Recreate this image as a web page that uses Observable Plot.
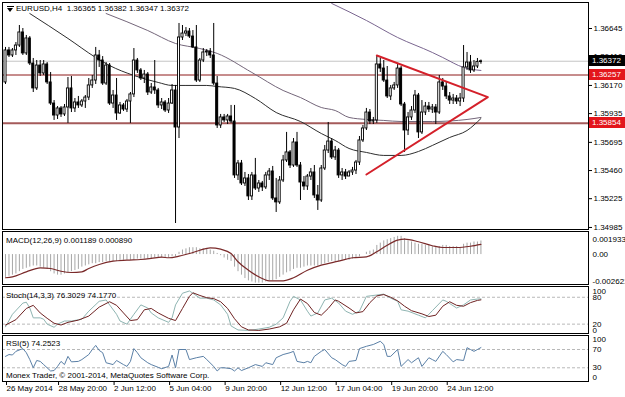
<!DOCTYPE html>
<html><head><meta charset="utf-8">
<script src="https://cdn.jsdelivr.net/npm/d3@7"></script>
<script src="https://cdn.jsdelivr.net/npm/@observablehq/plot@0.6"></script>
<style>
html,body{margin:0;padding:0;background:#fff;}
#chart{position:relative;width:625px;height:397px;overflow:hidden;background:#fff;font-family:"Liberation Sans",Arial,sans-serif;font-size:8px;color:#000;}
.lbl{position:absolute;white-space:pre;line-height:10px;font-size:8px;color:#000;}
.box{position:absolute;left:589px;width:36px;height:11px;line-height:11px;color:#fff;font-size:8px;padding-left:3px;box-sizing:border-box;}
</style></head><body><div id="chart"></div>
<script>
// ---------------- DATA ----------------
const symbol = "EURUSD,H4";
const open = [
1.36195,1.36462,1.36420,1.36462,1.36503,1.36612,1.36437,1.36562,1.36353,1.36145,
1.36336,1.36270,1.36345,1.36195,1.36019,1.35919,1.35978,1.35928,1.35986,1.36145,
1.35978,1.36028,1.36003,1.36036,1.36069,1.36170,1.36211,1.36420,1.36378,1.36186,
1.36336,1.36019,1.36086,1.35936,1.36003,1.35969,1.36036,1.36095,1.36378,1.36295,
1.36228,1.36261,1.36111,1.36153,1.36128,1.36003,1.36028,1.35961,1.36019,1.36128,
1.35819,1.36570,1.36603,1.36620,1.36578,1.36487,1.36211,1.36378,1.36445,1.36453,
1.36420,1.36186,1.35836,1.35903,1.35878,1.35911,1.35869,1.35419,1.35519,1.35352,
1.35394,1.35244,1.35419,1.35310,1.35352,1.35319,1.35419,1.35452,1.35227,1.35194,
1.35377,1.35544,1.35611,1.35502,1.35694,1.35502,1.35360,1.35327,1.35410,1.35444,
1.35252,1.35210,1.35477,1.35627,1.35702,1.35569,1.35627,1.35419,1.35444,1.35410,
1.35444,1.35460,1.35527,1.35711,1.35811,1.35944,1.35869,1.35878,1.36345,1.36311,
1.36211,1.36078,1.36145,1.36170,1.36311,1.36011,1.35794,1.35903,1.35961,1.36086,
1.35778,1.35944,1.35994,1.35969,1.35986,1.35944,1.36195,1.36161,1.36078,1.36044,
1.36061,1.36036,1.36061,1.36320,1.36361,1.36295,1.36328,1.36365];
const close = [
1.36462,1.36420,1.36462,1.36503,1.36612,1.36437,1.36562,1.36353,1.36145,1.36336,
1.36270,1.36345,1.36195,1.36019,1.35919,1.35978,1.35928,1.35986,1.36145,1.35978,
1.36028,1.36003,1.36036,1.36069,1.36170,1.36211,1.36420,1.36378,1.36186,1.36336,
1.36019,1.36086,1.35936,1.36003,1.35969,1.36036,1.36095,1.36378,1.36295,1.36228,
1.36261,1.36111,1.36153,1.36128,1.36003,1.36028,1.35961,1.36019,1.36128,1.35819,
1.36570,1.36603,1.36620,1.36578,1.36487,1.36211,1.36378,1.36445,1.36453,1.36420,
1.36186,1.35836,1.35903,1.35878,1.35911,1.35869,1.35419,1.35519,1.35352,1.35394,
1.35244,1.35419,1.35310,1.35352,1.35319,1.35419,1.35452,1.35227,1.35194,1.35377,
1.35544,1.35611,1.35502,1.35694,1.35502,1.35360,1.35327,1.35410,1.35444,1.35252,
1.35210,1.35477,1.35627,1.35702,1.35569,1.35627,1.35419,1.35444,1.35410,1.35444,
1.35460,1.35527,1.35711,1.35811,1.35944,1.35869,1.35878,1.36345,1.36311,1.36211,
1.36078,1.36145,1.36170,1.36311,1.36011,1.35794,1.35903,1.35961,1.36086,1.35778,
1.35944,1.35994,1.35969,1.35986,1.35944,1.36195,1.36161,1.36078,1.36044,1.36061,
1.36036,1.36061,1.36320,1.36361,1.36295,1.36328,1.36365,1.36372];
const high = [
1.36487,1.36487,1.36478,1.36528,1.36670,1.36645,1.36587,1.36578,1.36395,1.36378,
1.36378,1.36378,1.36361,1.36278,1.36044,1.35994,1.35994,1.36011,1.36236,1.36245,
1.36061,1.36078,1.36053,1.36086,1.36228,1.36253,1.36487,1.36462,1.36411,1.36361,
1.36353,1.36128,1.36228,1.36028,1.36019,1.36053,1.36111,1.36478,1.36395,1.36311,
1.36295,1.36278,1.36186,1.36378,1.36145,1.36061,1.36044,1.36061,1.36178,1.36170,
1.36687,1.36670,1.36653,1.36645,1.36628,1.36670,1.36395,1.36478,1.36470,1.36478,
1.36687,1.36245,1.35928,1.35928,1.35928,1.36003,1.36003,1.35544,1.35544,1.35444,
1.35427,1.35444,1.35561,1.35377,1.35369,1.35444,1.35477,1.35494,1.35394,1.35410,
1.35586,1.35778,1.35627,1.35727,1.35778,1.35527,1.35410,1.35427,1.35477,1.35502,
1.35335,1.35502,1.35669,1.35861,1.35727,1.35661,1.35644,1.35477,1.35469,1.35460,
1.35486,1.35544,1.35744,1.35836,1.35978,1.35969,1.35903,1.36411,1.36395,1.36378,
1.36328,1.36170,1.36195,1.36353,1.36328,1.36028,1.35944,1.35994,1.36128,1.36103,
1.36044,1.36028,1.36028,1.36011,1.36011,1.36253,1.36228,1.36195,1.36111,1.36095,
1.36086,1.36103,1.36503,1.36445,1.36420,1.36378,1.36395,1.36382];
const low = [
1.36178,1.36403,1.36403,1.36420,1.36487,1.36420,1.36420,1.36336,1.36111,1.36128,
1.36245,1.36253,1.36178,1.36003,1.35878,1.35886,1.35903,1.35911,1.35853,1.35944,
1.35944,1.35978,1.35986,1.35978,1.36044,1.36145,1.36178,1.36320,1.36170,1.36170,
1.36003,1.35978,1.35878,1.35928,1.35953,1.35944,1.35853,1.36069,1.36270,1.36211,
1.36186,1.36086,1.36095,1.36095,1.35978,1.35969,1.35944,1.35936,1.36011,1.35018,
1.35727,1.36545,1.36578,1.36562,1.36478,1.36195,1.36195,1.36361,1.36411,1.36395,
1.36170,1.35811,1.35811,1.35861,1.35844,1.35853,1.35394,1.35377,1.35335,1.35327,
1.35210,1.35210,1.35294,1.35277,1.35285,1.35302,1.35377,1.35210,1.35110,1.35177,
1.35360,1.35527,1.35477,1.35486,1.35486,1.35210,1.35294,1.35294,1.35377,1.35227,
1.35127,1.35194,1.35460,1.35602,1.35552,1.35544,1.35394,1.35377,1.35385,1.35410,
1.35419,1.35427,1.35502,1.35694,1.35794,1.35844,1.35844,1.35853,1.36278,1.36195,
1.36061,1.36044,1.36128,1.36145,1.35994,1.35611,1.35752,1.35878,1.35936,1.35727,
1.35761,1.35919,1.35944,1.35936,1.35844,1.35928,1.36128,1.36053,1.36011,1.36011,
1.36011,1.35994,1.36028,1.36295,1.36270,1.36278,1.36311,1.36347];

// moving averages (bar index, price)
const maABar = [7,18,26,30,37,44,48,52,58,61,66,72,78,85,91,95,99,104,109,114,119,123,128,133,137];
const maAVal = [1.36770,1.36562,1.36403,1.36336,1.36253,1.36195,1.36170,1.36170,1.36170,1.36161,1.36145,1.36061,1.35944,1.35869,1.35769,1.35711,1.35644,1.35611,1.35586,1.35586,1.35619,1.35669,1.35736,1.35794,1.35894];
const maBBar = [29,41,49,56,61,71,80,85,91,95,99,104,109,114,123,133,137];
const maBVal = [1.36770,1.36628,1.36520,1.36478,1.36437,1.36278,1.36128,1.36069,1.35986,1.35961,1.35903,1.35886,1.35878,1.35869,1.35869,1.35886,1.35903];
const maCBar = [94,104,113,123,126,132,137];
const maCVal = [1.36854,1.36712,1.36570,1.36445,1.36403,1.36320,1.36295];

// horizontal levels and the triangle drawn on the chart
const bidPrice = 1.36372;
const levelPrices = [1.36257, 1.35854];
const triBar = [107, 139, 104];
const triPrice = [1.36420, 1.36072, 1.35427];

// axis ticks
const priceTicks = [1.36645,1.36410,1.36170,1.35935,1.35695,1.35460,1.35225,1.34985];
const dateBars = [0,15,31,47,63,79,95,111,127];
const dateLabels = ["26 May 2014","28 May 20:00","2 Jun 12:00","5 Jun 04:00","9 Jun 20:00","12 Jun 12:00","17 Jun 04:00","19 Jun 20:00","24 Jun 12:00"];

// MACD(12,26,9)
const macdMain = [
-0.0020,-0.0019,-0.0018,-0.0017,-0.0015,-0.0013,-0.0012,-0.0011,-0.0010,-0.0010,-0.0011,
-0.0012,-0.0013,-0.0015,-0.0017,-0.0018,-0.0018,-0.0017,-0.0016,-0.0015,-0.0014,
-0.0013,-0.0011,-0.0010,-0.0009,-0.0008,-0.0008,-0.0007,-0.0007,-0.0006,-0.0006,
-0.0006,-0.0006,-0.0006,-0.0005,-0.0005,-0.0005,-0.0005,-0.0004,-0.0004,-0.0004,
-0.0004,-0.0004,-0.0003,-0.0003,-0.0003,-0.0003,-0.0003,-0.0002,-0.0002,0.0002,
0.0004,0.0005,0.0006,0.0006,0.0006,0.0005,0.0005,0.0005,0.0004,0.0003,
0.0001,-0.0001,-0.0003,-0.0005,-0.0006,-0.0011,-0.0015,-0.0018,-0.0021,-0.0023,
-0.0024,-0.0025,-0.0025,-0.0025,-0.0024,-0.0023,-0.0023,-0.0022,-0.0020,-0.0018,
-0.0016,-0.0015,-0.0013,-0.0012,-0.0012,-0.0011,-0.0010,-0.0010,-0.0010,-0.0010,
-0.0009,-0.0008,-0.0007,-0.0006,-0.0006,-0.0006,-0.0005,-0.0005,-0.0005,-0.0004,
-0.0003,-0.0002,0.0000,0.0002,0.0003,0.0004,0.0008,0.0010,0.0012,0.0013,
0.0014,0.0015,0.0016,0.0016,0.0014,0.0012,0.0011,0.0010,0.0009,0.0009,
0.0008,0.0008,0.0007,0.0007,0.0007,0.0008,0.0008,0.0007,0.0007,0.0007,
0.0006,0.0009,0.0010,0.0010,0.0011,0.0011,0.001189];
const macdSigBar = [0,2,6,10,13,16,19,22,24,27,31,35,39,42,45,47,50,53,56,59,62,65,67,70,73,76,80,83,87,91,96,100,104,107,110,113,115,119,123,126,130,134,137];
const macdSigVal = [-0.00203,-0.00195,-0.00151,-0.00116,-0.00122,-0.00146,-0.00157,-0.00151,-0.00122,-0.00087,-0.00058,-0.00049,-0.00043,-0.00034,-0.00023,-0.00028,-0.00014,0.00009,0.00038,0.00059,0.00047,0.00009,-0.00063,-0.00137,-0.00195,-0.00230,-0.00230,-0.00203,-0.00137,-0.00093,-0.00058,-0.00028,-0.00020,0.00024,0.00082,0.00126,0.00135,0.00112,0.00077,0.00062,0.00062,0.00073,0.00089];
const macdTickVals = [0.001933, 0, -0.002621];
const macdTickText = ["0.001933", "0.00", "-0.002621"];

// Stochastic(14,3,3)
const stochMainBar = [0,2,5,6,7,8,10,11,12,14,15,17,19,22,24,27,29,30,32,33,35,37,39,41,42,44,47,48,49,51,53,54,56,58,60,62,64,65,67,70,73,76,78,80,82,83,85,87,88,90,92,94,96,98,100,102,104,107,109,111,113,114,116,119,121,123,126,127,130,132,134,136,137];
const stochMainVal = [14,42,67,69,56,34,34,31,20,13,20,27,27,31,49,71,74,63,42,27,20,42,63,56,45,34,24,34,63,89,94,89,78,78,74,63,42,16,7,6,9,13,20,34,71,82,74,49,38,45,74,78,67,49,42,49,82,85,87,78,71,52,49,40,34,50,74,71,56,63,74,76,76.3029];
const stochSigBar = [0,3,6,8,10,12,14,16,18,21,24,27,30,32,34,36,38,40,42,44,47,49,51,53,54,56,58,60,62,64,66,68,70,73,76,79,81,83,85,87,89,91,93,95,96,99,101,103,105,107,109,111,113,115,117,120,122,124,126,128,130,132,134,136,137];
const stochSigVal = [18,30,55,62,45,33,22,18,24,29,38,58,70,62,45,28,30,52,55,45,33,28,55,82,90,84,79,77,70,55,32,14,7,6,9,14,22,52,76,66,46,40,55,74,71,56,45,48,68,83,86,80,72,60,50,43,37,40,60,70,62,60,68,73,74.177];
const stochLevels = [20, 80];
const stochTickVals = [100, 80, 20, 0];

// RSI(5)
const rsiBar = [0,1,2,3,5,6,7,8,9,10,11,12,13,14,15,16,17,18,19,21,22,24,25,26,27,28,29,31,32,34,35,36,37,38,39,41,42,44,45,47,48,49,50,52,53,55,57,58,60,61,62,63,65,66,67,68,70,72,74,75,77,78,80,82,83,84,86,87,88,89,91,92,94,95,97,98,99,101,102,104,106,108,109,110,111,113,114,116,117,119,120,122,123,124,126,127,129,130,132,133,134,135,136,137];
const rsiVal = [55,59,58,66,72,63,48,30,46,44,37,30,23,24,33,44,37,55,43,44,48,59,70,79,68,63,41,37,46,37,33,44,72,63,52,41,37,31,28,33,58,30,70,70,48,52,55,48,33,23,30,30,28,23,30,24,30,37,33,41,37,52,59,63,66,44,41,44,41,55,66,70,52,48,37,33,44,46,72,77,81,88,81,55,55,70,33,48,41,52,33,52,48,44,66,59,43,48,46,74,70,66,70,74.2523];
const rsiLevels = [30, 70];
const rsiTickVals = [100, 70, 30, 0];

// ---------------- DRAWING ----------------
const chart = document.getElementById("chart");
const W = 625;
const xDomain = [-0.865, 168];
const FONT = "'Liberation Sans', Arial, sans-serif";
const baseStyle = {fontFamily: FONT, fontSize: "8px", background: "transparent", overflow: "visible", color: "#000"};
const idx = d3.range(open.length);
const f5 = d3.format(".5f");

function place(svg, top) {
  svg.style.position = "absolute";
  svg.style.left = "0px";
  svg.style.top = top + "px";
  chart.appendChild(svg);
}
function rightLabel(v, t, dy) {
  return Plot.text([v], {y: d => d, text: () => t, frameAnchor: "right", textAnchor: "start", dx: 4, dy, fill: "#000"});
}
function pts(bars, vals) { return bars.map((b, k) => ({b, v: vals[k]})); }

// Main price window
const bull = idx.filter(i => close[i] >= open[i]);
const bear = idx.filter(i => close[i] < open[i]);
const main = Plot.plot({
  width: W, height: 231, marginTop: 2, marginBottom: 2, marginLeft: 2, marginRight: 37,
  style: baseStyle,
  x: {domain: xDomain, axis: null},
  y: {domain: [1.34968, 1.36862], label: null},
  marks: [
    Plot.ruleY([bidPrice], {stroke: "#c4c4c4"}),
    Plot.ruleY([levelPrices[0]], {stroke: "#8e1b1b", strokeWidth: 1}),
    Plot.ruleY([levelPrices[1]], {stroke: "#a45a5a", strokeWidth: 2}),
    Plot.line(pts(maABar, maAVal), {x: "b", y: "v", stroke: "#2e2e2e", strokeWidth: 1, curve: "monotone-x"}),
    Plot.line(pts(maBBar, maBVal), {x: "b", y: "v", stroke: "#74667a", strokeWidth: 1, curve: "monotone-x"}),
    Plot.line(pts(maCBar, maCVal), {x: "b", y: "v", stroke: "#7a6690", strokeWidth: 1, curve: "monotone-x"}),
    Plot.ruleX(idx, {x: i => i, y1: i => low[i], y2: i => high[i], stroke: "#000", strokeWidth: 1}),
    Plot.rect(bull, {x1: i => i - 0.3, x2: i => i + 0.3, y1: i => open[i], y2: i => close[i], fill: "#fff", stroke: "#000", strokeWidth: 0.9}),
    Plot.rect(bear, {x1: i => i - 0.3, x2: i => i + 0.3, y1: i => open[i], y2: i => close[i], fill: "#000", stroke: "#000", strokeWidth: 0.9}),
    Plot.line(pts(triBar, triPrice), {x: "b", y: "v", stroke: "#d4202a", strokeWidth: 2}),
    Plot.axisY({anchor: "right", ticks: priceTicks, tickFormat: f5, tickSize: 3, tickPadding: 2, label: null}),
    Plot.frame({stroke: "#000"})
  ]
});
place(main, 0);

// MACD window
const macd = Plot.plot({
  width: W, height: 57, marginTop: 2, marginBottom: 2, marginLeft: 2, marginRight: 37,
  style: baseStyle,
  x: {domain: xDomain, axis: null},
  y: {domain: [-0.002621, 0.001933], range: [55, 3], axis: null},
  marks: [
    Plot.ruleX(idx, {x: i => i, y1: () => 0, y2: i => macdMain[i], stroke: "#a6a6a6", strokeWidth: 1}),
    Plot.line(pts(macdSigBar, macdSigVal), {x: "b", y: "v", stroke: "#7a2a2a", strokeWidth: 1.2, curve: "monotone-x"}),
    rightLabel(macdTickVals[0], macdTickText[0], 7),
    rightLabel(macdTickVals[1], macdTickText[1], 0),
    rightLabel(macdTickVals[2], macdTickText[2], -3),
    Plot.frame({stroke: "#000"})
  ]
});
place(macd, 229);

// Stochastic window
const stoch = Plot.plot({
  width: W, height: 51, marginTop: 2, marginBottom: 2, marginLeft: 2, marginRight: 37,
  style: baseStyle,
  x: {domain: xDomain, axis: null},
  y: {domain: [0, 100], range: [48.6, 3.8], axis: null},
  marks: [
    Plot.ruleY(stochLevels, {stroke: "#b8b8b8", strokeDasharray: "3,2"}),
    Plot.line(pts(stochMainBar, stochMainVal), {x: "b", y: "v", stroke: "#8fb5b2", strokeWidth: 1}),
    Plot.line(pts(stochSigBar, stochSigVal), {x: "b", y: "v", stroke: "#6e2222", strokeWidth: 1}),
    rightLabel(stochTickVals[0], String(stochTickVals[0]), 3),
    rightLabel(stochTickVals[1], String(stochTickVals[1]), 0),
    rightLabel(stochTickVals[2], String(stochTickVals[2]), 0),
    rightLabel(stochTickVals[3], String(stochTickVals[3]), -3),
    Plot.frame({stroke: "#000"})
  ]
});
place(stoch, 284);

// RSI window + date axis
const dateMap = new Map(dateBars.map((b, k) => [b, dateLabels[k]]));
const rsi = Plot.plot({
  width: W, height: 64, marginTop: 2, marginBottom: 16, marginLeft: 2, marginRight: 37,
  style: baseStyle,
  x: {domain: xDomain, label: null},
  y: {domain: [0, 100], range: [48, 2.3], axis: null},
  marks: [
    Plot.ruleY(rsiLevels, {stroke: "#b8b8b8", strokeDasharray: "3,2"}),
    Plot.line(pts(rsiBar, rsiVal), {x: "b", y: "v", stroke: "#5a7fa6", strokeWidth: 1}),
    rightLabel(rsiTickVals[0], String(rsiTickVals[0]), 4),
    rightLabel(rsiTickVals[1], String(rsiTickVals[1]), 0),
    rightLabel(rsiTickVals[2], String(rsiTickVals[2]), 0),
    rightLabel(rsiTickVals[3], String(rsiTickVals[3]), -4),
    Plot.axisX({anchor: "bottom", ticks: dateBars, tickFormat: d => dateMap.get(d), tickSize: 4, tickPadding: 0, textAnchor: "start", dx: 1, label: null}),
    Plot.frame({stroke: "#000"})
  ]
});
place(rsi, 333);

// price boxes on the right scale
const ys = main.scale("y");
const boxPrices = [bidPrice, levelPrices[0], levelPrices[1]];
const boxColors = ["#000", "#e3161c", "#e3161c"];
boxPrices.forEach((p, k) => {
  const d = document.createElement("div");
  d.className = "box";
  d.style.top = (ys.apply(p) - 5.5) + "px";
  d.style.background = boxColors[k];
  d.textContent = f5(p);
  chart.appendChild(d);
});

// titles
function label(text, left, center) {
  const s = document.createElement("div");
  s.className = "lbl";
  s.style.left = left + "px";
  s.style.top = (center - 5) + "px";
  s.textContent = text;
  chart.appendChild(s);
}
const last = open.length - 1;
label(`${symbol}  ${f5(open[last])} ${f5(high[last])} ${f5(low[last])} ${f5(close[last])}`, 16, 9);
label(`MACD(12,26,9) ${d3.format(".6f")(macdMain[last])} ${d3.format(".6f")(macdSigVal[macdSigVal.length - 1])}`, 6, 241);
label(`Stoch(14,3,3) ${d3.format(".4f")(stochMainVal[stochMainVal.length - 1])} ${d3.format(".4f")(stochSigVal[stochSigVal.length - 1])}`, 6, 296);
label(`RSI(5) ${d3.format(".4f")(rsiVal[rsiVal.length - 1])}`, 6, 344);
label("Monex Trader, \u00A9 2001-2014, MetaQuotes Software Corp.", 6, 376);

// small one-click icon next to the symbol
const bar = document.createElement("div");
bar.style.cssText = "position:absolute;left:7px;top:6px;width:7px;height:1px;background:#000;";
chart.appendChild(bar);
const tri = document.createElement("div");
tri.style.cssText = "position:absolute;left:7px;top:8px;width:0;height:0;border-left:3.5px solid transparent;border-right:3.5px solid transparent;border-top:4px solid #000;";
chart.appendChild(tri);
</script></body></html>
